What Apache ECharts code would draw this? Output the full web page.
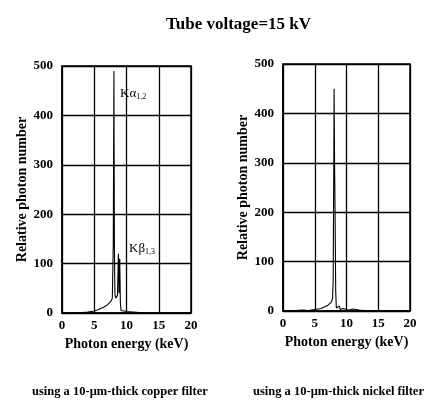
<!DOCTYPE html>
<html>
<head>
    <meta charset="UTF-8">
    <title>Tube voltage 15 kV</title>
    <script src="https://cdn.jsdelivr.net/npm/echarts@6/dist/echarts.min.js"></script>
</head>
<body style="margin:0;background:#fff">
    <div id="main" style="width:431px;height:415px;"></div>
    <script>
        // energy (keV) and relative photon number
        var cuEnergy = [0, 1, 2, 3, 4, 5, 5.5, 6, 6.5, 7, 7.3, 7.6, 7.8, 7.95, 8.05, 8.12, 8.2, 8.3, 8.45, 8.6, 8.75, 8.85, 8.95, 9.05, 9.15, 9.4, 10, 11, 12, 13, 20];
        var cuCounts = [0, 0, 0, 1, 2, 4, 6, 9, 12, 16, 20, 24, 30, 140, 490, 145, 40, 30, 28, 35, 120, 40, 110, 20, 5, 4, 3, 2, 1, 0, 0];

        var niEnergy = [0, 1, 2, 3, 4, 5, 5.5, 6, 6.5, 7, 7.3, 7.6, 7.8, 7.9, 8.0, 8.05, 8.12, 8.2, 8.3, 8.4, 8.6, 8.9, 9.0, 9.5, 10, 10.5, 11, 12, 13, 14, 20];
        var niCounts = [0, 0, 1, 2, 1, 3, 4, 5, 8, 11, 14, 18, 25, 60, 300, 450, 300, 200, 40, 6, 4, 10, 3, 5, 3, 2, 4, 2, 1, 0, 0];

        var xTicks = [0, 5, 10, 15, 20];
        var yTicks = [0, 100, 200, 300, 400, 500];

        function pairs(xs, ys) {
            return xs.map(function (x, i) { return [x, ys[i]]; });
        }

        var serif = '"Liberation Serif", "DejaVu Serif", serif';
        var labelStyle = { color: '#000', fontFamily: serif, fontWeight: 'bold', fontSize: 13 };
        var nameStyle = { color: '#000', fontFamily: serif, fontWeight: 'bold', fontSize: 14 };

        function xAxisFor(idx) {
            return {
                gridIndex: idx, type: 'value', min: xTicks[0], max: xTicks[xTicks.length - 1], interval: 5,
                name: 'Photon energy (keV)', nameLocation: 'middle', nameGap: 20,
                nameTextStyle: nameStyle,
                axisLine: { lineStyle: { color: '#000', width: 1.5 } },
                axisTick: { show: false },
                axisLabel: Object.assign({ margin: 6 }, labelStyle),
                splitLine: { show: true, lineStyle: { color: '#000', width: 1.3 } }
            };
        }
        function yAxisFor(idx) {
            return {
                gridIndex: idx, type: 'value', min: yTicks[0], max: yTicks[yTicks.length - 1], interval: 100,
                name: 'Relative photon number', nameLocation: 'middle', nameGap: 33,
                nameTextStyle: nameStyle,
                axisLine: { lineStyle: { color: '#000', width: 1.5 } },
                axisTick: { show: false },
                axisLabel: Object.assign({ margin: 9 }, labelStyle),
                splitLine: { show: true, lineStyle: { color: '#000', width: 1.3 } }
            };
        }

        var myChart = echarts.init(document.getElementById('main'));
        var option = {
            backgroundColor: '#fff',
            animation: false,
            title: {
                text: 'Tube voltage=15 kV', left: 161, top: 11,
                textStyle: { color: '#000', fontFamily: serif, fontWeight: 'bold', fontSize: 17 }
            },
            grid: [
                { left: 62, top: 66, width: 129, height: 247, show: true, borderColor: '#000', borderWidth: 1.5 },
                { left: 283, top: 64, width: 127, height: 247, show: true, borderColor: '#000', borderWidth: 1.5 }
            ],
            xAxis: [xAxisFor(0), xAxisFor(1)],
            yAxis: [yAxisFor(0), yAxisFor(1)],
            series: [{
                type: 'line', xAxisIndex: 0, yAxisIndex: 0,
                data: pairs(cuEnergy, cuCounts),
                showSymbol: false,
                lineStyle: { color: '#000', width: 1.1 },
                markPoint: {
                    symbol: 'circle', symbolSize: 0,
                    label: {
                        show: true, position: 'right', distance: 0, color: '#000', fontFamily: serif, fontSize: 13,
                        formatter: function (p) { return p.name; },
                        rich: { s: { fontSize: 8, verticalAlign: 'bottom', padding: [7, 0, 0, 0], fontFamily: serif, color: '#000' } }
                    },
                    data: [
                        { name: 'Kα{s|1,2}', coord: [9.0, 445] },
                        { name: 'Kβ{s|1,3}', coord: [10.4, 131] }
                    ]
                }
            }, {
                type: 'line', xAxisIndex: 1, yAxisIndex: 1,
                data: pairs(niEnergy, niCounts),
                showSymbol: false,
                lineStyle: { color: '#000', width: 1.1 }
            }],
            graphic: [
                {
                    type: 'text', left: 32, top: 385,
                    style: { text: 'using a 10-μm-thick copper filter', fill: '#000', font: 'bold 12.5px ' + serif }
                },
                {
                    type: 'text', left: 253, top: 385,
                    style: { text: 'using a 10-μm-thick nickel filter', fill: '#000', font: 'bold 12.5px ' + serif }
                }
            ]
        };
        myChart.setOption(option);
    </script>
</body>
</html>
